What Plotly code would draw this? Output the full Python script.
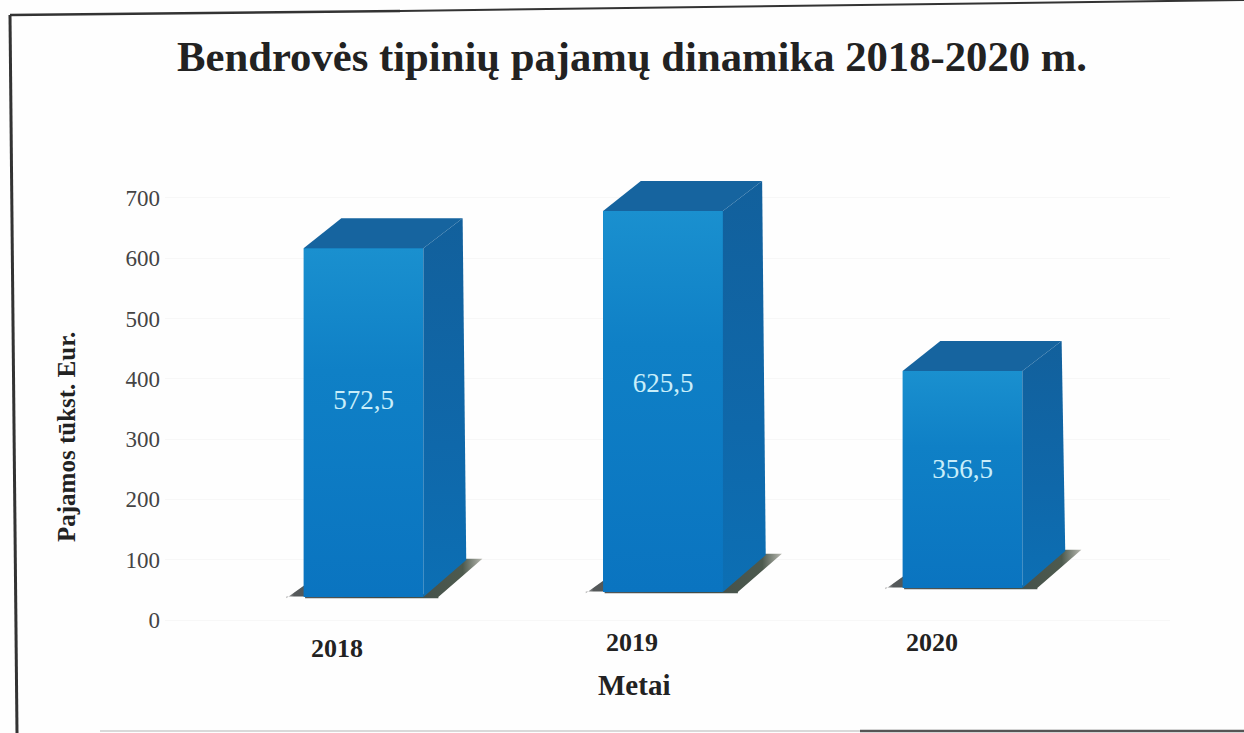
import plotly.graph_objects as go

# ---- chart data ----
years = ["2018", "2019", "2020"]
income = [572.5, 625.5, 356.5]
y_ticks = [0, 100, 200, 300, 400, 500, 600, 700]
title_text = "Bendrovės tipinių pajamų dinamika 2018-2020 m."
y_title = "Pajamos tūkst. Eur."
x_title = "Metai"

# ---- picture geometry (page pixels) ----
W, H = 1244, 733
L, R, T, B = 165, 1170, 100, 640     # plot area
ZERO_PX = 620                        # pixel of axis value 0
TICK_SCALE = 0.603                   # px per unit of the printed axis
BAR_SCALE = 0.609                    # px per unit of the drawn bars
FIRST_CENTER, STEP = 363.5, 299.5    # px of first bar centre, px between bars
BAR_W = 0.40
DX = 0.131                           # depth, x units
DY = 30 / BAR_SCALE                  # depth, y units
FLOOR_DY = 37 / BAR_SCALE            # depth of the bar foot, y units
LIFT = [23 / BAR_SCALE, 28 / BAR_SCALE, 32 / BAR_SCALE]  # perspective lift of bar floor
LABEL_FRAC = [0.559, 0.544, 0.539]   # how far up each bar its label sits

x_range = [(L - FIRST_CENTER) / STEP, (R - FIRST_CENTER) / STEP]
yr1 = [(ZERO_PX - B) / TICK_SCALE, (ZERO_PX - T) / TICK_SCALE]
yr2 = [(ZERO_PX - B) / BAR_SCALE, (ZERO_PX - T) / BAR_SCALE]
px = lambda v: (v - L) / (R - L)
py = lambda v: (B - v) / (B - T)

FRONT, TOP = "#0e7cc4", "#16649f"
SHADOW_SCALE = [[0, "#b8b8b8"], [0.04, "#55595a"], [0.5, "#3f4a48"], [0.9, "#4d5a4e"], [1, "#b8b8b0"]]

fig = go.Figure()
xs = list(range(len(years)))

# carrier of the printed value axis
fig.add_trace(go.Scatter(x=xs, y=income, mode="markers", marker=dict(opacity=0, size=1),
                         hoverinfo="skip", showlegend=False))

# shadows on the floor
for i, v in zip(xs, income):
    h = BAR_W / 2
    b = LIFT[i]
    sx = [i - h - 0.058, i - h + 0.005, i - h + 0.005, i - h - 0.058, None,
          i + h + 0.045, i + h + DX + 0.066, i + h + DX, i + h - 0.01, None,
          i - h - 0.058, i + h + 0.05, i + h + 0.05, i - h - 0.058]
    sy = [b - 2, b + 20, b - 2, b - 2, None,
          b - 2, b + FLOOR_DY + 2, b + FLOOR_DY + 2, b + 0, None,
          b - 2, b - 2, b + 1, b + 1]
    fig.add_trace(go.Scatter(x=sx, y=sy, yaxis="y2", mode="lines", fill="toself",
                             fillgradient=dict(type="horizontal", colorscale=SHADOW_SCALE),
                             line=dict(width=0), hoverinfo="skip", showlegend=False))

# front faces
fig.add_trace(go.Bar(x=xs, y=income, base=LIFT, width=BAR_W, yaxis="y2",
                     marker=dict(color=FRONT, line=dict(width=0)), showlegend=False))

# shading, side and top faces
for i, v in zip(xs, income):
    h = BAR_W / 2
    b = LIFT[i]
    t = b + v
    fig.add_trace(go.Scatter(
        x=[i - h, i + h, i + h, i - h, i - h],
        y=[b, b, t, t, b],
        yaxis="y2", mode="lines", fill="toself",
        fillgradient=dict(type="vertical", colorscale=[[0, "#0a74c0"], [0.65, "#0f80c6"], [1, "#1a90cf"]]),
        line=dict(width=0), hoverinfo="skip", showlegend=False))
    fig.add_trace(go.Scatter(
        x=[i + h, i + h + DX, i + h + DX + 0.012, i + h, i + h],
        y=[t, t + DY, b + FLOOR_DY, b, t],
        yaxis="y2", mode="lines", fill="toself",
        fillgradient=dict(type="vertical", colorscale=[[0, "#0c6fb4"], [0.4, "#0f68aa"], [1, "#12609c"]]),
        line=dict(width=0), hoverinfo="skip", showlegend=False))
    fig.add_trace(go.Scatter(
        x=[i - h, i - h + DX - 0.005, i + h + DX, i + h, i - h],
        y=[t, t + DY, t + DY, t, t],
        yaxis="y2", mode="lines", fill="toself", fillcolor=TOP,
        line=dict(width=0), hoverinfo="skip", showlegend=False))

# value labels
fig.add_trace(go.Scatter(
    x=xs,
    y=[LIFT[i] + income[i] * LABEL_FRAC[i] for i in xs],
    yaxis="y2", mode="text",
    text=[f"{v:.1f}".replace(".", ",") for v in income],
    textposition="middle center",
    textfont=dict(family="Liberation Serif", size=27, color="#c9eefa"),
    hoverinfo="skip", showlegend=False))

annotations = [
    dict(text=f"<b>{years[0]}</b>", x=px(337), y=py(648)),
    dict(text=f"<b>{years[1]}</b>", x=px(632), y=py(642)),
    dict(text=f"<b>{years[2]}</b>", x=px(932), y=py(642)),
]
for a in annotations:
    a.update(xref="paper", yref="paper", showarrow=False, xanchor="center", yanchor="middle",
             font=dict(family="Liberation Serif", size=26, color="#222222"))
annotations += [
    dict(text=f"<b>{x_title}</b>", x=px(634), y=py(685), xref="paper", yref="paper",
         showarrow=False, xanchor="center", yanchor="middle",
         font=dict(family="Liberation Serif", size=29, color="#222222")),
    dict(text=f"<b>{y_title}</b>", x=px(67), y=py(437), xref="paper", yref="paper",
         showarrow=False, xanchor="center", yanchor="middle", textangle=-90,
         font=dict(family="Liberation Serif", size=25, color="#222222")),
    dict(text=f"<b>{title_text}</b>", x=px(632), y=py(57), xref="paper", yref="paper",
         showarrow=False, xanchor="center", yanchor="middle",
         font=dict(family="Liberation Serif", size=42.7, color="#222222")),
]

def border(x0, y0, x1, y1, color="#333333", width=2.5):
    return dict(type="line", xref="paper", yref="paper", x0=px(x0), y0=py(y0), x1=px(x1), y1=py(y1),
                line=dict(color=color, width=width))

shapes = [
    border(10, 15, 400, 11),
    border(400, 11, 1244, 0, width=2),
    border(10, 15, 17, 733, width=3),
    border(100, 731, 860, 731, color="#cccccc", width=1.5),
    border(860, 731, 1244, 731, color="#555555", width=2.5),
]

fig.update_layout(
    width=W, height=H, autosize=False,
    margin=dict(l=L, r=W - R, t=T, b=H - B, pad=0),
    paper_bgcolor="#fefefe", plot_bgcolor="rgba(0,0,0,0)",
    bargap=0, showlegend=False, annotations=annotations, shapes=shapes,
    xaxis=dict(range=x_range, showticklabels=False, showgrid=False, zeroline=False,
               showline=False, ticks=""),
    yaxis=dict(range=yr1, tickvals=y_ticks, ticktext=[str(t) for t in y_ticks],
               showgrid=True, gridcolor="#f7f7f7", zeroline=False, showline=False, ticks="",
               tickfont=dict(family="Liberation Serif", size=23, color="#444444"),
               ticklabelstandoff=4),
    yaxis2=dict(range=yr2, overlaying="y", visible=False),
)
fig.write_html("out.html", config=dict(displayModeBar=False),
               post_script="document.body.style.margin='0';document.body.style.overflow='hidden';")
